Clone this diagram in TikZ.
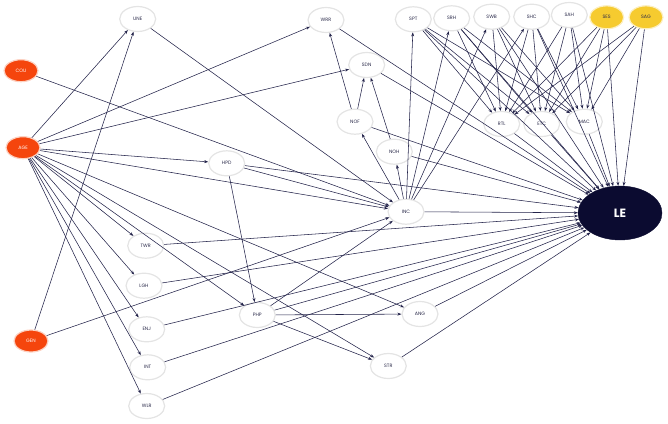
\documentclass[tikz,border=0pt]{standalone}
\usepackage{fontspec}
\setmainfont{Poppins}
\usetikzlibrary{arrows.meta,shapes.geometric}
\definecolor{edgec}{HTML}{23234A}
\definecolor{bord}{HTML}{E4E4E4}
\definecolor{txt}{HTML}{2A2A4A}
\definecolor{orng}{HTML}{F5450D}
\definecolor{yell}{HTML}{F6CB2F}
\definecolor{navy}{HTML}{0B0B30}
\begin{document}
\begin{tikzpicture}[x=1pt,y=-1pt,
  nd/.style={ellipse, draw=bord, line width=1.2pt, fill=white, minimum width=36pt, minimum height=25pt, inner sep=0pt, font=\fontsize{4.8}{5}\selectfont, text=txt},
  hot/.style={nd, fill=orng, draw=orng!25!white, text=white, minimum width=34pt, minimum height=22pt},
  gold/.style={nd, fill=yell, draw=yell!30!white, text=txt, minimum width=34pt, minimum height=23pt},
  big/.style={ellipse, fill=navy, draw=navy, minimum width=84pt, minimum height=54pt, inner sep=0pt, text=white, font=\fontsize{12}{12}\selectfont\bfseries},
  ed/.style={draw=edgec, line width=0.55pt, -{Stealth[length=4pt,width=3pt]}}
]
\useasboundingbox (0,0) rectangle (668,423);

\node[nd] (UNE) at (137.7,19) {UNE};
\node[hot] (COU) at (21,70.7) {COU};
\node[hot] (AGE) at (23,147.7) {AGE};
\node[hot] (GEN) at (31,341) {GEN};
\node[nd] (HPD) at (226.7,163.3) {HPD};
\node[nd] (WRR) at (326,20) {WRR};
\node[nd] (SDN) at (366.7,65) {SDN};
\node[nd] (NOF) at (355,121.7) {NOF};
\node[nd] (NOH) at (394.3,151.7) {NOH};
\node[nd] (INC) at (406,211.7) {INC};
\node[nd] (SPT) at (413.3,19.3) {SPT};
\node[nd] (SRH) at (451.7,18.3) {SRH};
\node[nd] (SWB) at (491.7,16.7) {SWB};
\node[nd] (SHC) at (531.7,16.7) {SHC};
\node[nd] (SAH) at (569.3,15) {SAH};
\node[gold] (SES) at (606.7,17.3) {SES};
\node[gold] (SAG) at (646,17.3) {SAG};
\node[nd] (RTL) at (501.7,124) {RTL};
\node[nd] (ETC) at (541.7,124) {ETC};
\node[nd] (MAC) at (584.3,121.7) {MAC};
\node[big] (LE) at (620,213) {LE};
\node[nd] (TWR) at (145.7,245.7) {TWR};
\node[nd] (LGH) at (144,285.7) {LGH};
\node[nd] (ENJ) at (146.7,329.3) {ENJ};
\node[nd] (INT) at (147.7,367.3) {INT};
\node[nd] (WLR) at (146.7,406) {WLR};
\node[nd] (PHP) at (257.3,315) {PHP};
\node[nd] (ANG) at (420,314) {ANG};
\node[nd] (STR) at (388.3,366) {STR};

\foreach \t in {UNE,WRR,SDN,HPD,INC,TWR,LGH,ENJ,INT,WLR,PHP,STR,ANG}
  \draw[ed] (AGE) -- (\t);
\draw[ed] (COU) -- (INC);
\draw[ed] (GEN) -- (UNE);
\draw[ed] (GEN) -- (INC);
\draw[ed] (UNE) -- (INC);
\foreach \t in {PHP,INC,LE} \draw[ed] (HPD) -- (\t);
\foreach \t in {INC,ANG,STR,LE} \draw[ed] (PHP) -- (\t);
\foreach \s in {TWR,LGH,ENJ,INT,WLR,ANG,STR,WRR,SDN,NOF,NOH,RTL,ETC,MAC}
  \draw[ed] (\s) -- (LE);
\foreach \t in {NOF,NOH,LE,SPT,SRH,SWB,SHC} \draw[ed] (INC) -- (\t);
\draw[ed] (NOF) -- (WRR);
\draw[ed] (NOF) -- (SDN);
\draw[ed] (NOH) -- (SDN);
\foreach \s in {SPT,SRH,SWB,SHC,SAH,SES,SAG}
  \foreach \t in {RTL,ETC,MAC,LE}
    \draw[ed] (\s) -- (\t);
\end{tikzpicture}
\end{document}
